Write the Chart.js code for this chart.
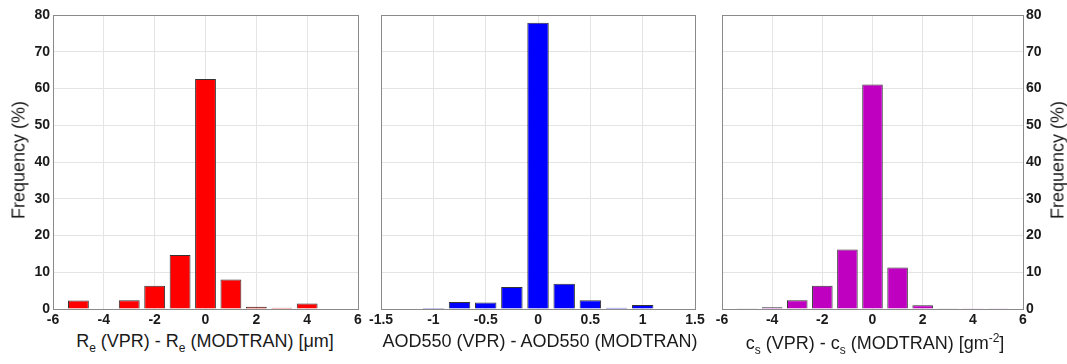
<!DOCTYPE html>
<html>
<head>
<meta charset="utf-8">
<script src="https://cdn.jsdelivr.net/npm/chart.js@4"></script>
<style>
  body { margin: 0; background: #fff; width: 1067px; height: 364px; position: relative; overflow: hidden; font-family: Arial, "Liberation Sans", sans-serif; }
  .box { position: absolute; top: 0; height: 330px; }
  .xt { position: absolute; top: 331px; font-size: 18px; color: #1a1a1a; white-space: nowrap; transform: translateX(-50%); }
  .xt sub { font-size: 12px; vertical-align: -5px; }
  .xt sup { font-size: 12px; vertical-align: 7px; }
  .yt { position: absolute; font-size: 18px; color: #1a1a1a; white-space: nowrap; transform: translate(-50%, -50%) rotate(-90deg); }
</style>
</head>
<body>
<div class="box" style="left:0;width:368px"><canvas id="c1"></canvas></div>
<div class="box" style="left:366px;width:343px"><canvas id="c2"></canvas></div>
<div class="box" style="left:708px;width:359px"><canvas id="c3"></canvas></div>

<div class="yt" style="left:19px;top:160px">Frequency (%)</div>
<div class="yt" style="left:1058px;top:160px">Frequency (%)</div>
<div class="xt" style="left:205px">R<sub>e</sub> (VPR) - R<sub>e</sub> (MODTRAN) [&mu;m]</div>
<div class="xt" style="left:540px">AOD550 (VPR) - AOD550 (MODTRAN)</div>
<div class="xt" style="left:875px">c<sub>s</sub> (VPR) - c<sub>s</sub> (MODTRAN) [gm<sup>-2</sup>]</div>

<script>
// bin centres and frequencies (%)
const reBins = [-5, -4, -3, -2, -1, 0, 1, 2, 3, 4, 5];
const reFreq = [2.3, 0, 2.4, 6.3, 14.7, 62.6, 8.0, 0.6, 0.35, 1.5, 0];

const aodBins = [-1, -0.75, -0.5, -0.25, 0, 0.25, 0.5, 0.75, 1, 1.25];
const aodFreq = [0.3, 1.9, 1.8, 6.0, 77.9, 6.9, 2.4, 0.35, 1.1, 0.15];

const csBins = [-5, -4, -3, -2, -1, 0, 1, 2, 3, 4, 5];
const csFreq = [0.1, 0.45, 2.4, 6.3, 16.2, 61.1, 11.3, 1.0, 0.2, 0.05, 0.05];

const yTicks = [0, 10, 20, 30, 40, 50, 60, 70, 80];

const tickFont = { family: 'Arial, "Liberation Sans", sans-serif', size: 14, weight: 'bold' };
const gridColor = '#e4e4e4';

const frame = {
  id: 'frame',
  afterDraw(chart) {
    const a = chart.chartArea, ctx = chart.ctx;
    ctx.save();
    ctx.strokeStyle = '#8a8a8a';
    ctx.lineWidth = 1;
    ctx.strokeRect(Math.round(a.left) + 0.5, Math.round(a.top) + 0.5, Math.round(a.right - a.left), Math.round(a.bottom - a.top));
    ctx.restore();
  }
};

function makeChart(id, bins, freq, color, xr, step, yPos, pad) {
  return new Chart(document.getElementById(id), {
    type: 'bar',
    data: {
      datasets: [{
        data: bins.map((b, i) => ({ x: b, y: freq[i] })),
        backgroundColor: color,
        borderColor: '#333',
        borderWidth: 1,
        barPercentage: 0.82,
        categoryPercentage: 1,
      }],
    },
    plugins: [frame],
    options: {
      animation: false,
      responsive: true,
      maintainAspectRatio: false,
      layout: { padding: pad },
      plugins: { legend: { display: false }, tooltip: { enabled: false } },
      scales: {
        x: {
          type: 'linear',
          offset: false,
          min: xr[0],
          max: xr[1],
          border: { display: false },
          grid: { color: gridColor, drawTicks: false, offset: false },
          ticks: {
            stepSize: step,
            autoSkip: false,
            padding: 3,
            color: '#1a1a1a',
            font: tickFont,
            maxRotation: 0,
            callback: v => String(Math.round(v * 100) / 100),
          },
          afterFit: s => { s.height = 21; },
        },
        y: {
          position: yPos || 'left',
          min: 0,
          max: 80,
          border: { display: false },
          grid: { color: gridColor, drawTicks: false },
          afterBuildTicks: s => { s.ticks = yTicks.map(v => ({ value: v })); },
          ticks: {
            display: !!yPos,
            padding: 3,
            color: '#1a1a1a',
            font: tickFont,
          },
          afterFit: s => { if (yPos === 'left') s.width = 53; else if (yPos === 'right') s.width = 44; },
        },
      },
    },
  });
}

makeChart('c1', reBins, reFreq, '#ff0000', [-6, 6], 2, 'left', { top: 15, right: 10, left: 0, bottom: 0 });
makeChart('c2', aodBins, aodFreq, '#0000ff', [-1.5, 1.5], 0.5, null, { top: 15, right: 14, left: 14, bottom: 0 });
makeChart('c3', csBins, csFreq, '#c000c0', [-6, 6], 2, 'right', { top: 15, right: 0, left: 14, bottom: 0 });
</script>
</body>
</html>
